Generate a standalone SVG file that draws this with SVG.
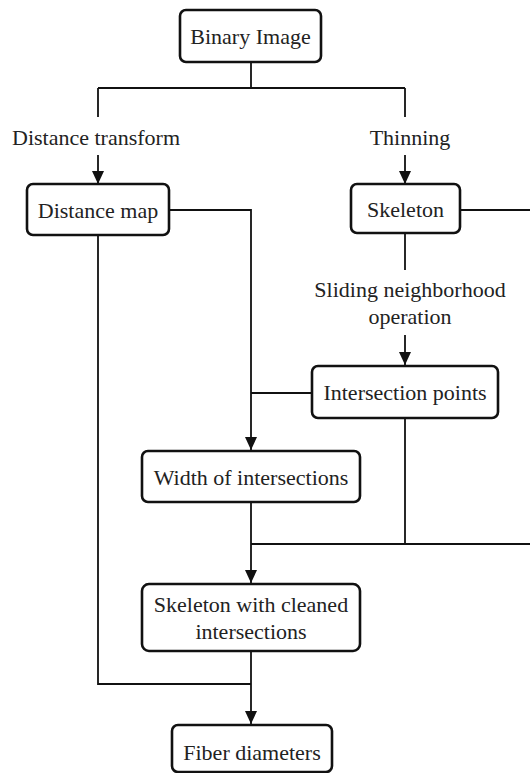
<svg xmlns="http://www.w3.org/2000/svg" width="530" height="773" viewBox="0 0 530 773">
<style>
.box{fill:#fff;stroke:#111;stroke-width:2.6}
.t{font-size:22px;fill:#222;text-anchor:middle}
.c{fill:none;stroke:#111;stroke-width:1.8}
</style>
<defs>
<marker id="ad" viewBox="0 0 13 12" refX="13" refY="6" markerWidth="13" markerHeight="12" markerUnits="userSpaceOnUse" orient="auto">
<path d="M0,0 L13,6 L0,12 Z" fill="#111"/>
</marker>
</defs>
<g font-family="Liberation Serif, serif">
<g id="connectors">
<path class="c" d="M251,62 V88 M98,88 H405 M98,88 V117 M405,88 V117"/>
<path class="c" d="M98,155 V184" marker-end="url(#ad)"/>
<path class="c" d="M405,155 V184" marker-end="url(#ad)"/>
<path class="c" d="M169,210 H251 V450" marker-end="url(#ad)"/>
<path class="c" d="M460,210 H533 V544 H251"/>
<path class="c" d="M405,233 V270"/>
<path class="c" d="M405,335 V365" marker-end="url(#ad)"/>
<path class="c" d="M312,393 H251"/>
<path class="c" d="M405,418 V544"/>
<path class="c" d="M251,502 V583" marker-end="url(#ad)"/>
<path class="c" d="M98,235 V684 H251"/>
<path class="c" d="M251,651 V724" marker-end="url(#ad)"/>
<text class="t" x="96" y="145">Distance transform</text>
<text class="t" x="410" y="145">Thinning</text>
<text class="t" x="410" y="297">Sliding neighborhood</text>
<text class="t" x="410" y="324">operation</text>
</g>
<g id="binary">
<rect class="box" x="180" y="10" width="141" height="52" rx="6"/>
<text class="t" x="250.5" y="44">Binary Image</text>
</g>
<g id="distmap">
<rect class="box" x="27" y="184" width="142" height="51" rx="6"/>
<text class="t" x="98" y="218">Distance map</text>
</g>
<g id="skeleton">
<rect class="box" x="351" y="184" width="109" height="49" rx="6"/>
<text class="t" x="405.5" y="217">Skeleton</text>
</g>
<g id="intersections">
<rect class="box" x="312" y="366" width="186" height="52" rx="6"/>
<text class="t" x="405" y="400">Intersection points</text>
</g>
<g id="width">
<rect class="box" x="142" y="451" width="218" height="51" rx="6"/>
<text class="t" x="251" y="485">Width of intersections</text>
</g>
<g id="cleaned">
<rect class="box" x="142" y="584" width="218" height="67" rx="7"/>
<text class="t" x="251" y="612">Skeleton with cleaned</text>
<text class="t" x="251" y="639">intersections</text>
</g>
<g id="fiber">
<rect class="box" x="172" y="725" width="160" height="47" rx="6"/>
<text class="t" x="252" y="760">Fiber diameters</text>
</g>
</g>
</svg>
